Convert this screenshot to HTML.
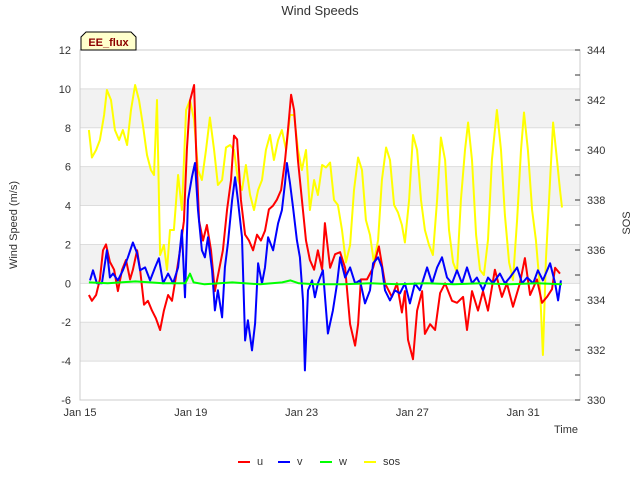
<!DOCTYPE html>
<html><head><meta charset="utf-8"><style>
body{margin:0;background:#fff;}
svg{display:block;font-family:"Liberation Sans","DejaVu Sans",sans-serif;}
</style></head><body>
<svg id="chart" width="640" height="480" viewBox="0 0 640 480" xmlns="http://www.w3.org/2000/svg">
<text x="320" y="15" text-anchor="middle" font-size="13" fill="#333">Wind Speeds</text>
<g id="bands"></g>
<rect x="80" y="50" width="500" height="350" fill="none" stroke="#ccc" stroke-width="1"/>
<g id="series"></g>
<g id="axes"></g>
<text transform="translate(17,225) rotate(-90)" text-anchor="middle" font-size="11" fill="#333">Wind Speed (m/s)</text>
<text transform="translate(630,223) rotate(-90)" text-anchor="middle" font-size="11" fill="#333">SOS</text>
<text x="578" y="433" text-anchor="end" font-size="11" fill="#333">Time</text>
<g>
<path d="M81,50 L81,37 L86,32 L131,32 L136,37 L136,50 Z" fill="#ffffcc" stroke="#000" stroke-width="1"/>
<text x="108.5" y="46" text-anchor="middle" font-size="11" font-weight="bold" fill="#8b0000">EE_flux</text>
</g>
<g id="legend"></g>
</svg>
<script>
const xTickLabels=["Jan 15","Jan 19","Jan 23","Jan 27","Jan 31"];
const xTickDays=[15,19,23,27,31];
const yTicks=[-6,-4,-2,0,2,4,6,8,10,12];
const y2Ticks=[330,332,334,336,338,340,342,344];
const sosT=[15.32,15.43,15.58,15.72,15.87,15.97,16.12,16.26,16.41,16.55,16.70,16.84,16.99,17.13,17.27,17.42,17.56,17.67,17.78,17.89,18.03,18.14,18.25,18.39,18.54,18.68,18.83,18.97,19.12,19.26,19.40,19.55,19.69,19.84,19.98,20.13,20.27,20.42,20.56,20.70,20.85,20.99,21.14,21.28,21.43,21.57,21.71,21.86,22.00,22.15,22.29,22.44,22.58,22.73,22.87,23.01,23.16,23.30,23.45,23.59,23.74,23.88,24.03,24.17,24.31,24.46,24.60,24.75,24.89,25.04,25.18,25.32,25.47,25.61,25.76,25.90,26.05,26.19,26.34,26.48,26.62,26.73,26.88,27.02,27.17,27.31,27.45,27.60,27.74,27.89,28.03,28.18,28.32,28.47,28.61,28.75,28.90,29.01,29.15,29.30,29.44,29.58,29.73,29.87,30.05,30.20,30.34,30.49,30.63,30.78,30.92,31.03,31.17,31.32,31.46,31.61,31.71,31.82,31.97,32.08,32.22,32.33,32.40];
const sosV=[340.8,339.7,340.0,340.4,341.4,342.4,342.0,340.8,340.4,340.8,340.2,341.6,342.6,342.0,341.0,339.8,339.2,339.0,342.0,335.8,336.2,335.2,336.8,336.8,339.0,337.6,341.6,342.0,341.2,339.2,338.8,340.0,341.3,340.0,338.6,338.8,340.1,340.2,340.0,338.8,338.4,339.4,338.2,337.6,338.4,338.8,340.0,340.6,339.6,340.4,340.8,340.0,341.4,341.4,340.0,339.2,340.0,337.6,338.8,338.2,339.4,339.3,339.5,338.0,337.8,336.8,335.5,336.2,338.4,339.7,339.2,337.2,336.6,335.5,336.4,338.8,340.1,339.6,337.8,337.5,337.0,336.3,338.0,340.6,340.0,338.0,336.8,336.2,335.8,338.0,340.5,339.6,336.8,335.5,335.1,338.0,340.0,341.1,339.6,336.6,335.2,335.0,336.4,339.6,341.6,340.0,337.4,335.5,334.8,337.2,340.0,341.5,340.0,337.6,336.4,334.4,331.8,335.6,338.8,341.1,339.6,338.4,337.7];
const uT=[15.32,15.43,15.58,15.72,15.83,15.94,16.08,16.23,16.37,16.52,16.66,16.81,16.91,17.06,17.17,17.31,17.45,17.60,17.74,17.89,18.03,18.18,18.32,18.47,18.61,18.75,18.86,18.97,19.12,19.19,19.30,19.44,19.58,19.73,19.87,20.02,20.16,20.31,20.45,20.56,20.67,20.81,20.96,21.10,21.25,21.39,21.53,21.68,21.82,21.97,22.11,22.26,22.40,22.51,22.62,22.73,22.87,23.01,23.16,23.30,23.45,23.59,23.74,23.84,24.03,24.21,24.39,24.57,24.75,24.93,25.04,25.14,25.36,25.58,25.79,26.01,26.26,26.44,26.62,26.73,26.84,27.02,27.17,27.35,27.45,27.64,27.82,28.00,28.18,28.43,28.61,28.83,28.97,29.15,29.37,29.55,29.73,29.98,30.23,30.41,30.63,30.88,31.06,31.25,31.50,31.68,31.86,32.04,32.15,32.33];
const uV=[-0.6,-0.9,-0.6,0.2,1.7,2.0,1.1,0.7,-0.4,0.7,1.2,0.2,0.7,1.7,0.7,-1.1,-0.9,-1.4,-1.8,-2.4,-1.4,-0.6,-0.9,0.4,1.7,3.2,6.9,9.4,10.2,6.9,3.2,2.2,3.0,1.7,-0.4,0.7,1.7,3.8,5.3,7.6,7.4,4.3,2.5,2.2,1.7,2.5,2.2,2.7,3.8,4.0,4.3,4.8,6.3,7.9,9.7,8.9,6.3,4.3,2.2,1.2,0.7,1.7,0.7,3.1,0.8,1.5,1.6,0.8,-2.1,-3.2,-2.1,0.2,0.2,0.8,1.9,0,-0.7,0,-1.5,-0.4,-2.9,-3.9,-1.4,-0.4,-2.6,-2.1,-2.4,-0.5,0,-0.9,-1.0,-0.7,-2.4,-0.4,-1.4,-0.4,-1.4,0.7,-0.7,0,-1.2,0,1.3,-0.6,0.2,-1.0,-0.7,-0.3,0.8,0.5];
const vT=[15.36,15.47,15.61,15.79,15.97,16.08,16.19,16.37,16.55,16.73,16.91,17.06,17.17,17.35,17.53,17.71,17.85,18.00,18.18,18.36,18.54,18.68,18.79,18.90,19.04,19.15,19.26,19.40,19.51,19.62,19.77,19.87,19.98,20.13,20.23,20.34,20.49,20.60,20.70,20.85,20.96,21.06,21.21,21.32,21.43,21.57,21.68,21.79,21.97,22.15,22.29,22.40,22.47,22.58,22.69,22.83,22.94,23.05,23.12,23.23,23.38,23.48,23.59,23.77,23.95,24.13,24.28,24.39,24.57,24.75,24.93,25.11,25.29,25.47,25.58,25.76,25.90,26.01,26.19,26.37,26.55,26.73,26.91,27.09,27.27,27.53,27.71,27.89,28.07,28.25,28.43,28.61,28.79,28.97,29.15,29.33,29.55,29.73,29.91,30.16,30.34,30.52,30.78,30.96,31.14,31.36,31.53,31.71,31.97,32.15,32.26,32.36];
const vV=[0.15,0.67,0,0,1.7,0.3,0.5,0.15,0.67,1.34,2.1,1.55,0.67,0.82,0.15,0.82,1.29,0,0.5,0,0.82,2.73,-0.72,4.28,5.46,6.19,3.76,1.7,1.34,2.37,0.67,-1.39,-0.36,-1.75,0.82,2.06,4.28,5.46,4.28,2.37,-2.94,-1.9,-3.45,-2.06,1.03,0,0.82,2.37,1.7,3.09,3.76,5.15,6.19,5.15,3.92,2.22,1.34,-0.88,-4.48,-0.36,0.15,-0.72,0,0.67,-2.58,-1.39,0,1.34,0.3,0.82,0,0.15,-1.03,-0.36,1.03,1.34,0.82,-0.36,-0.88,-0.36,-0.52,0,-1.03,0,-0.36,0.82,0,0.82,1.34,0.3,0,0.67,0,0.82,0,0.3,-0.36,0.3,0,0.5,0,0.3,0.82,0,0.3,0,0.67,0.15,1.03,0,-0.88,0.15];
const wT=[15.32,16.0,17.0,18.0,18.8,18.97,19.1,19.5,20.5,21.5,22.3,22.6,22.9,23.5,24.5,25.5,26.5,27.5,28.5,29.5,30.5,31.5,32.4];
const wV=[0.05,0.0,0.1,0.0,0.0,0.5,0.05,-0.05,0.05,-0.05,0.05,0.15,0.0,-0.05,-0.05,0.0,-0.05,0.0,-0.05,0.0,-0.05,0.0,-0.05];

const NS="http://www.w3.org/2000/svg";
const X0=80,X1=580,Y0=50,Y1=400;
const xs=d=>X0+(d-15)*27.7;
const ys=v=>Y1-(v+6)/18*(Y1-Y0);
const ys2=v=>Y1-(v-330)/14*(Y1-Y0);
function mk(tag,attrs,parent){const e=document.createElementNS(NS,tag);for(const k in attrs)e.setAttribute(k,attrs[k]);parent.appendChild(e);return e;}
const bands=document.getElementById('bands');
[-4,0,4,8].forEach(b=>{const r=mk('rect',{x:X0,y:ys(b+2),width:X1-X0,height:ys(b)-ys(b+2),fill:'#f2f2f2'},bands);

});
yTicks.forEach(t=>{const l=mk('line',{x1:X0,x2:X1,y1:ys(t),y2:ys(t),stroke:'#ddd','stroke-width':1},bands);

});
const axes=document.getElementById('axes');
yTicks.forEach(t=>{const tx=mk('text',{x:71,y:ys(t)+4,'text-anchor':'end','font-size':11,fill:'#333'},axes);tx.textContent=t;

});
y2Ticks.forEach(t=>{const tx=mk('text',{x:587,y:ys2(t)+4,'font-size':11,fill:'#333'},axes);tx.textContent=t;

});
for(let v=330;v<=344;v++){const l=mk('line',{x1:X1-5,x2:X1,y1:ys2(v),y2:ys2(v),stroke:'#333'},axes);

}
xTickDays.forEach((d,i)=>{const tx=mk('text',{x:xs(d),y:416,'text-anchor':'middle','font-size':11,fill:'#333'},axes);tx.textContent=xTickLabels[i];

});
const series=document.getElementById('series');
function line(T,V,sy,color,name){const p=T.map((t,i)=>xs(t).toFixed(1)+','+sy(V[i]).toFixed(1)).join(' ');
const pl=mk('polyline',{points:p,fill:'none',stroke:color,'stroke-width':2,'stroke-linejoin':'round'},series);

}
line(sosT,sosV,ys2,'#ffff00','sos-line');
line(uT,uV,ys,'#ff0000','u-line');
line(vT,vV,ys,'#0000ff','v-line');
line(wT,wV,ys,'#00ff00','w-line');
const legend=document.getElementById('legend');
const leg=[["u","#ff0000",238],["v","#0000ff",278],["w","#00ff00",320],["sos","#ffff00",364]];
leg.forEach(([n,c,x])=>{const g=mk('g',{},legend);


mk('line',{x1:x,x2:x+12,y1:462,y2:462,stroke:c,'stroke-width':2},g);
const tx=mk('text',{x:x+19,y:465,'font-size':11,fill:'#333'},g);tx.textContent=n;});
</script>
</body></html>
